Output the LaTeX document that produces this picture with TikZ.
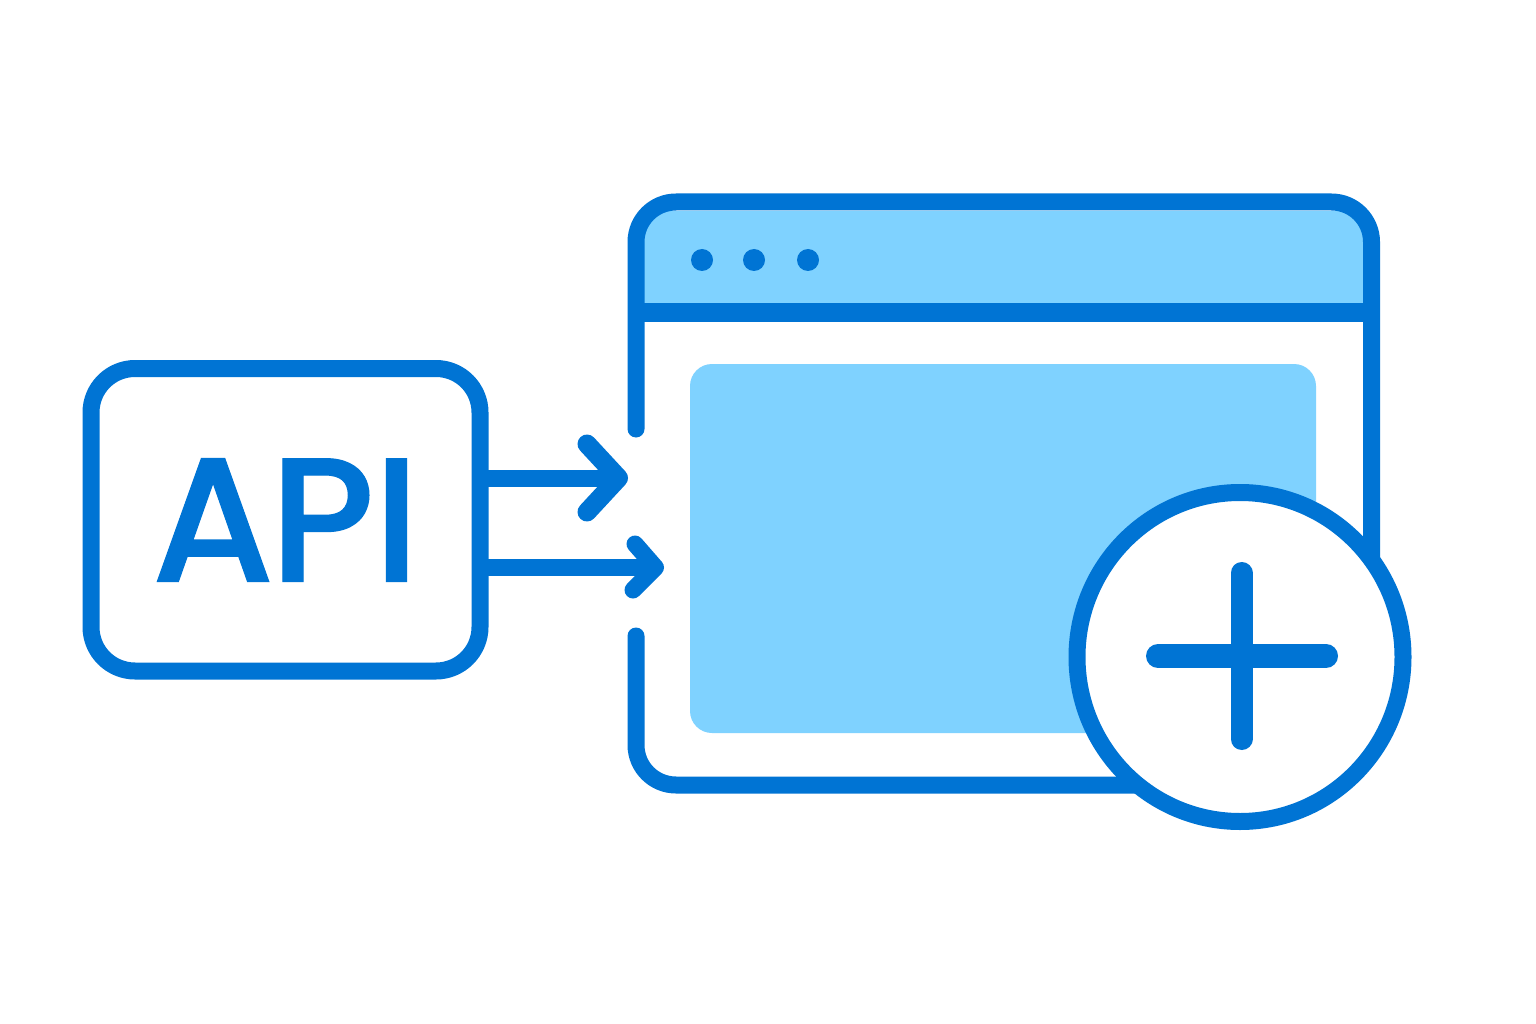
\documentclass[tikz,border=0pt]{standalone}
\usepackage{fontspec}
\setmainfont{Poppins}
\newfontfamily\apifont{Poppins Medium}[FakeBold=0.6]
\definecolor{iconblue}{HTML}{0074D4}
\definecolor{paleblue}{HTML}{7FD2FF}
\tikzset{
  x=1pt,y=-1pt,
  stroke/.style={draw=iconblue,line width=17pt},
  strokeround/.style={stroke,line cap=round,line join=round},
  panel/.style={fill=paleblue,draw=none},
  dotmark/.style={circle,fill=iconblue,draw=none,minimum size=22pt,inner sep=0pt},
}
\begin{document}
\begin{tikzpicture}
\useasboundingbox (0,0) rectangle (1536,1024);
\fill[white] (0,0) rectangle (1536,1024);
% API box
\draw[stroke,rounded corners=44pt] (91,368.5) rectangle (480,671);
\node[font=\apifont\fontsize{177}{177}\selectfont,text=iconblue,inner sep=0pt,anchor=center] (api) at (285.5,520) {A\kern-5pt P\kern-2pt I};
\coordinate (boxtop) at (480,478);
\coordinate (boxbot) at (480,567.5);
% window panels
\path[panel] (644,308) [rounded corners=26pt] -- (644,211) -- (1363,211) [sharp corners] -- (1363,308) -- cycle;
\path[panel,rounded corners=22pt] (690,364) rectangle (1316,733);
% window frame
\draw[strokeround,rounded corners=40pt] (636,429) -- (636,202) -- (1371.5,202) -- (1371.5,560);
\draw[stroke,line width=18.5pt] (636,312.5) -- (1371.5,312.5);
\draw[strokeround,rounded corners=40pt] (636,636) -- (636,785) -- (1150,785);
\node[dotmark] (d1) at (702,260) {};
\node[dotmark] (d2) at (754,260) {};
\node[dotmark] (d3) at (808,260) {};
% arrows
\coordinate (tip1) at (618.5,478);
\coordinate (tip2) at (655.5,567.5);
\coordinate (h1a) at (587,444);
\coordinate (h1b) at (587,512);
\coordinate (h2a) at (635,544);
\coordinate (h2b) at (633,590);
\draw[stroke] (boxtop) -- (tip1);
\draw[strokeround,line width=19pt] (h1a) -- (tip1) -- (h1b);
\draw[stroke] (boxbot) -- (tip2);
\draw[strokeround] (h2a) -- (tip2) -- (h2b);
% plus badge
\draw[stroke,fill=white] (1240,657) ellipse [x radius=163,y radius=164.5];
\draw[iconblue,line width=22pt,line cap=round] (1241.5,573) -- (1241.5,739);
\draw[iconblue,line width=24pt,line cap=round] (1158,656) -- (1326,656);
\end{tikzpicture}
\end{document}
